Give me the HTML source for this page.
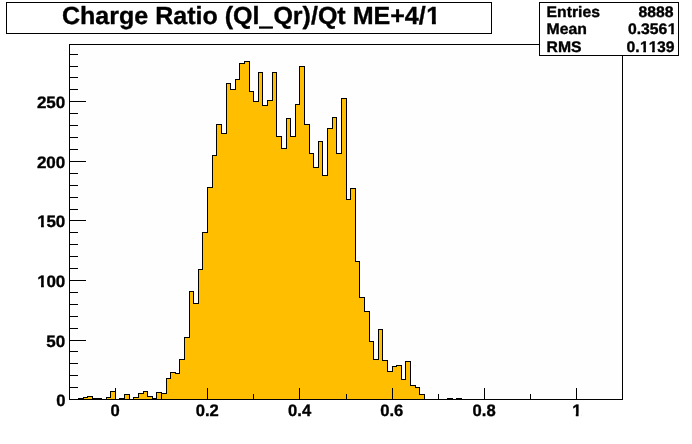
<!DOCTYPE html>
<html><head><meta charset="utf-8"><title>Charge Ratio (Ql_Qr)/Qt ME+4/1</title>
<style>
html,body{margin:0;padding:0;background:#fff;}
svg{display:block;font-family:"Liberation Sans",sans-serif;font-weight:bold;fill:#000;}
.l line,.l rect,.l path{shape-rendering:crispEdges;stroke:#000;stroke-width:1;}
.t text{stroke:#000;stroke-width:0.35px;stroke-linejoin:round;font-kerning:none;text-rendering:geometricPrecision;white-space:pre;}
</style></head><body>
<svg width="692" height="444" viewBox="0 0 692 444">
<defs><clipPath id="k1"><path clip-rule="evenodd" d="M-6,-20.6H33.7V7.47H-6ZM0.53,-2.32H4.04V1.5H0.53ZM6.75,-2.32H9.95V1.5H6.75Z"/></clipPath><clipPath id="k2"><path clip-rule="evenodd" d="M-6,-20.6H33.7V7.47H-6ZM0.53,-2.32H4.04V1.5H0.53ZM6.75,-2.32H9.95V1.5H6.75Z"/></clipPath><clipPath id="k3"><path clip-rule="evenodd" d="M-6,-20.6H15.23V7.47H-6ZM0.53,-2.32H4.03V1.5H0.53ZM6.76,-2.32H9.95V1.5H6.76Z"/></clipPath><clipPath id="k4"><path clip-rule="evenodd" d="M-6,-19.3H52.8V6.89H-6ZM38.7,-2.19H41.99V1.5H38.7ZM44.53,-2.19H47.52V1.5H44.53Z"/></clipPath><clipPath id="k5"><path clip-rule="evenodd" d="M-6,-19.3H52.8V6.89H-6ZM13.17,-2.19H16.46V1.5H13.17ZM19,-2.19H21.99V1.5H19ZM21.99,-2.19H24.97V1.5H21.99ZM27.51,-2.19H30.5V1.5H27.51Z"/></clipPath><clipPath id="k6"><path clip-rule="evenodd" d="M-6,-28.8H380.14V11.16H-6ZM193.42,0.8H195.17V7H193.42ZM208.94,0.8H211.67V7H208.94ZM361.58,-3.16H366.49V1.5H361.58ZM370.33,-3.16H374.82V1.5H370.33Z"/></clipPath></defs>
<rect x="0" y="0" width="692" height="444" fill="#fff"/>
<g class="l">
<rect x="69.5" y="44.5" width="553" height="355" fill="#fefefe"/>
<path d="M69.5,399.5H73.5H78.5V398.5H83.5V397.5H87.5V396.5H92.5V398.5H96.5H101.5V399.5H106.5V397.5H110.5V391.5H115.5V399.5H119.5V398.5H124.5V394.5H129.5V399.5H133.5V397.5H138.5V393.5H143.5V391.5H147.5V396.5H152.5V398.5H156.5V392.5H161.5V393.5H166.5V378.5H170.5V372.5H175.5V373.5H179.5V359.5H184.5V337.5H189.5V291.5H193.5V303.5H198.5V269.5H202.5V232.5H207.5V187.5H212.5V155.5H216.5V124.5H221.5V133.5H226.5V83.5H230.5V89.5H235.5V79.5H239.5V63.5H244.5V61.5H249.5V91.5H253.5V101.5H258.5V72.5H262.5V105.5H267.5V100.5H272.5V72.5H276.5V136.5H281.5V148.5H286.5V118.5H290.5V136.5H295.5V104.5H299.5V66.5H304.5V124.5H309.5V153.5H313.5V167.5H318.5V141.5H322.5V175.5H327.5V128.5H332.5V117.5H336.5V153.5H341.5V98.5H346.5V199.5H350.5V188.5H355.5V261.5H359.5V297.5H364.5V311.5H369.5V341.5H373.5V359.5H378.5V329.5H382.5V360.5H387.5V371.5H392.5V366.5H396.5V365.5H401.5V379.5H405.5V361.5H410.5V385.5H415.5V387.5H419.5V394.5H424.5V399.5H429.5H433.5H438.5H442.5H447.5V398.5H452.5V399.5H456.5V398.5H461.5V399.5H465.5H470.5H475.5H479.5H484.5H489.5H493.5H498.5H502.5H507.5H512.5H516.5H521.5H525.5H530.5H535.5H539.5H544.5H548.5H553.5H558.5H562.5H567.5H572.5H576.5H581.5H585.5H590.5H595.5H599.5H604.5H608.5H613.5H618.5H622.5Z" fill="#FFBF00"/>
<line x1="69" x2="623" y1="399.5" y2="399.5"/>
<line x1="69.5" x2="69.5" y1="44" y2="400"/>
<line x1="70" x2="86" y1="399.5" y2="399.5"/><line x1="70" x2="78" y1="387.5" y2="387.5"/><line x1="70" x2="78" y1="375.5" y2="375.5"/><line x1="70" x2="78" y1="363.5" y2="363.5"/><line x1="70" x2="78" y1="351.5" y2="351.5"/><line x1="70" x2="86" y1="340.5" y2="340.5"/><line x1="70" x2="78" y1="328.5" y2="328.5"/><line x1="70" x2="78" y1="316.5" y2="316.5"/><line x1="70" x2="78" y1="304.5" y2="304.5"/><line x1="70" x2="78" y1="292.5" y2="292.5"/><line x1="70" x2="86" y1="280.5" y2="280.5"/><line x1="70" x2="78" y1="268.5" y2="268.5"/><line x1="70" x2="78" y1="256.5" y2="256.5"/><line x1="70" x2="78" y1="244.5" y2="244.5"/><line x1="70" x2="78" y1="232.5" y2="232.5"/><line x1="70" x2="86" y1="220.5" y2="220.5"/><line x1="70" x2="78" y1="209.5" y2="209.5"/><line x1="70" x2="78" y1="197.5" y2="197.5"/><line x1="70" x2="78" y1="185.5" y2="185.5"/><line x1="70" x2="78" y1="173.5" y2="173.5"/><line x1="70" x2="86" y1="161.5" y2="161.5"/><line x1="70" x2="78" y1="149.5" y2="149.5"/><line x1="70" x2="78" y1="137.5" y2="137.5"/><line x1="70" x2="78" y1="125.5" y2="125.5"/><line x1="70" x2="78" y1="113.5" y2="113.5"/><line x1="70" x2="86" y1="101.5" y2="101.5"/><line x1="70" x2="78" y1="89.5" y2="89.5"/><line x1="70" x2="78" y1="77.5" y2="77.5"/><line x1="70" x2="78" y1="66.5" y2="66.5"/><line x1="70" x2="78" y1="54.5" y2="54.5"/>
<line x1="69.5" x2="69.5" y1="394" y2="399"/><line x1="115.5" x2="115.5" y1="388" y2="399"/><line x1="161.5" x2="161.5" y1="394" y2="399"/><line x1="207.5" x2="207.5" y1="388" y2="399"/><line x1="253.5" x2="253.5" y1="394" y2="399"/><line x1="299.5" x2="299.5" y1="388" y2="399"/><line x1="346.5" x2="346.5" y1="394" y2="399"/><line x1="392.5" x2="392.5" y1="388" y2="399"/><line x1="438.5" x2="438.5" y1="394" y2="399"/><line x1="484.5" x2="484.5" y1="388" y2="399"/><line x1="530.5" x2="530.5" y1="394" y2="399"/><line x1="576.5" x2="576.5" y1="388" y2="399"/><line x1="622.5" x2="622.5" y1="394" y2="399"/>
<rect x="6.5" y="2.5" width="485" height="31" fill="#fff"/>
<rect x="539.5" y="2.5" width="139" height="53" fill="#fff"/>
</g>
<g class="t" font-size="24.8"><text transform="translate(61.95,23.7) scale(1.0095,1)" clip-path="url(#k6)">Charge Ratio (Ql<tspan dy="1.4" style="stroke-width:1.35px;stroke-linejoin:miter">_</tspan><tspan dy="-1.4">Qr)/Qt ME+4/</tspan><tspan dx="0.57">1</tspan></text>
</g>
<g class="t" font-size="15.3">
<text transform="translate(546.6,16.5) scale(1.03,1)">Entries</text>
<text transform="translate(638.44,16.5) scale(1.03,1)">8888</text>
<text transform="translate(546.6,33.8) scale(1.03,1)">Mean</text>
<text transform="translate(627.9,33.8) scale(1.03,1)" clip-path="url(#k4)">0.356<tspan dx="0.35">1</tspan></text>
<text transform="translate(546.6,51.6) scale(1.03,1)">RMS</text>
<text transform="translate(626.4,51.6) scale(1.03,1)" clip-path="url(#k5)">0.<tspan dx="0.35">1</tspan>1<tspan dx="-0.35">39</tspan></text>

</g>
<g class="t" font-size="16.6">
<text transform="translate(56.37,405.9) scale(1.0,1)">0</text>
<text transform="translate(46.37,346.9) scale(1.025,1)">50</text>
<text transform="translate(36.91,286.9) scale(1.025,1)" clip-path="url(#k1)"><tspan dx="0.38">1</tspan><tspan dx="-0.38">00</tspan></text>
<text transform="translate(36.91,226.9) scale(1.025,1)" clip-path="url(#k2)"><tspan dx="0.38">1</tspan><tspan dx="-0.38">50</tspan></text>
<text transform="translate(36.91,167.9) scale(1.025,1)">200</text>
<text transform="translate(36.91,107.9) scale(1.025,1)">250</text>

<text transform="translate(110.38,416.1) scale(1.0,1)">0</text>
<text transform="translate(195.76,416.1) scale(1.0,1)">0.2</text>
<text transform="translate(288.06,416.1) scale(1.0,1)">0.4</text>
<text transform="translate(380.26,416.1) scale(1.0,1)">0.6</text>
<text transform="translate(472.56,416.1) scale(1.0,1)">0.8</text>
<text transform="translate(571.78,416.1) scale(1.0,1)" clip-path="url(#k3)"><tspan dx="0.38">1</tspan></text>

</g>
</svg>
</body></html>
